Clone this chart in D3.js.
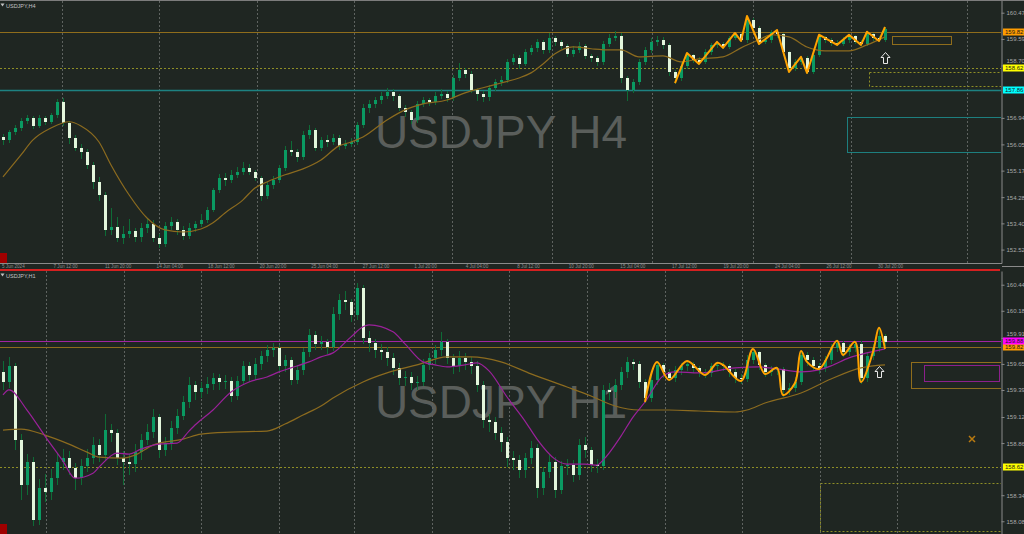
<!DOCTYPE html>
<html lang="en">
<head>
<meta charset="UTF-8">
<title>USDJPY H4 / H1</title>
<script src="https://cdn.jsdelivr.net/npm/d3@7/dist/d3.min.js"></script>
<style>
  body { margin: 0; background: #1f2622; }
  svg { display: block; font-family: "Liberation Sans", Arial, sans-serif; }
</style>
</head>
<body>
<svg width="1024" height="534"></svg>
<script>
// ---------- H4 panel ----------
var h4Open0 = 156.30;
var h4Close = [156.20,156.47,156.60,156.84,156.94,156.67,156.94,156.81,157.04,157.48,
  156.77,156.27,155.93,155.80,155.36,154.79,154.36,153.18,153.28,152.91,
  153.05,153.15,152.95,153.25,153.38,152.91,152.71,153.32,153.45,153.18,
  152.98,153.25,153.38,153.52,153.85,154.52,154.93,154.86,155.03,155.13,
  155.26,155.13,154.93,154.32,154.69,154.86,155.26,155.87,155.80,155.63,
  156.37,156.54,155.93,156.20,156.13,156.27,156.00,156.07,156.13,156.70,
  157.28,157.41,157.54,157.68,157.81,157.68,157.28,157.14,156.87,157.41,
  157.54,157.48,157.68,157.75,157.61,158.28,158.55,158.42,157.88,157.75,
  157.64,157.95,158.15,158.22,158.82,158.95,158.75,159.15,159.29,159.49,
  159.22,159.62,159.49,159.36,159.09,159.22,159.36,159.02,158.95,158.82,
  159.42,159.62,159.69,158.28,157.88,158.15,158.82,159.22,159.49,159.56,
  159.39,158.48,158.28,158.69,159.05,158.89,158.82,159.15,159.39,159.42,
  159.32,159.62,159.76,159.56,160.23,159.96,159.49,159.56,159.83,159.76,
  159.15,158.62,158.82,158.95,158.48,159.05,159.66,159.56,159.46,159.42,
  159.56,159.69,159.49,159.42,159.76,159.62,159.56,159.93];
var h4High = [156.40,156.55,156.70,156.92,157.05,157.00,157.02,157.00,157.10,157.58,
  157.60,156.85,156.35,156.05,155.90,155.45,154.95,154.45,153.90,153.60,
  153.30,153.55,153.25,153.40,153.55,153.50,153.05,153.45,153.60,153.55,
  153.30,153.40,153.48,153.70,153.95,154.60,155.05,155.10,155.20,155.30,
  155.45,155.40,155.20,155.00,154.80,155.00,155.35,156.00,156.15,155.90,
  156.50,156.70,156.60,156.30,156.35,156.40,156.35,156.20,156.25,156.80,
  157.40,157.55,157.65,157.80,157.95,157.90,157.75,157.38,157.20,157.50,
  157.65,157.62,157.80,157.90,157.85,158.38,158.78,158.62,158.50,157.95,
  157.85,158.05,158.25,158.35,158.92,159.08,159.05,159.25,159.40,159.60,
  159.55,159.80,159.70,159.55,159.42,159.35,159.48,159.42,159.10,159.00,
  159.52,159.75,159.85,159.78,158.35,158.25,158.92,159.32,159.62,159.70,
  159.65,159.45,158.55,158.80,159.12,159.10,158.98,159.25,159.45,159.49,
  159.48,159.70,159.79,159.80,160.36,160.30,160.02,159.68,159.88,159.89,
  159.80,159.20,158.92,158.99,159.00,159.15,159.73,159.70,159.62,159.55,
  159.65,159.73,159.72,159.55,159.83,159.80,159.68,159.99];
var h4Low = [156.05,156.12,156.40,156.55,156.78,156.60,156.62,156.72,156.76,156.98,
  156.70,156.10,155.85,155.60,155.25,154.60,154.20,153.00,153.05,152.80,
  152.75,152.95,152.80,152.80,153.10,152.80,152.60,152.65,153.20,153.05,
  152.88,152.90,153.15,153.30,153.45,153.80,154.45,154.70,154.80,154.95,
  155.05,155.05,154.85,154.20,154.25,154.60,154.80,155.20,155.70,155.50,
  155.55,156.25,155.85,155.85,156.00,156.05,155.90,155.92,155.98,156.05,
  156.62,157.15,157.30,157.45,157.60,157.55,157.20,157.00,156.78,156.80,
  157.35,157.38,157.40,157.60,157.52,157.55,158.20,158.30,157.80,157.55,
  157.50,157.55,157.88,158.05,158.15,158.75,158.62,158.70,159.08,159.20,
  159.12,159.15,159.40,159.28,159.00,159.02,159.15,158.95,158.85,158.70,
  158.75,159.35,159.55,158.15,157.55,157.80,158.08,158.75,159.15,159.40,
  159.30,158.38,158.11,158.20,158.62,158.80,158.75,158.78,159.10,159.32,
  159.29,159.30,159.58,159.52,159.50,159.88,159.42,159.45,159.50,159.65,
  159.05,158.48,158.55,158.75,158.45,158.46,159.00,159.48,159.40,159.39,
  159.40,159.50,159.44,159.39,159.40,159.55,159.52,159.52];
var h4MaIdx = [0,3,5,8,11,13,16,18,21,24,27,30,33,35,37,40,42,44,47,50,53,56,58,60,64,67,70,74,77,80,
  83,86,88,90,92,95,98,101,103,106,110,113,116,120,123,126,128,131,134,137,141,144,147];
var h4MaPx = [154.96,155.70,156.20,156.60,156.81,156.67,156.13,155.36,154.36,153.58,
  153.18,153.11,153.21,153.42,153.75,154.19,154.59,154.79,155.03,155.23,
  155.53,156.00,156.13,156.30,156.87,157.21,157.41,157.54,157.78,157.95,
  158.11,158.28,158.45,158.75,159.09,159.32,159.26,159.22,159.22,158.99,
  159.02,158.82,158.92,158.99,159.29,159.56,159.73,159.66,159.32,159.19,
  159.19,159.39,159.66];
var h4ZzIdx = [112,114,116,119,120,122,123,124,126,129,131,133,134,136,139,141,143,144,146,147];
var h4ZzPx = [158.11,159.12,158.75,159.49,159.29,159.79,159.52,160.36,159.42,159.89,
  158.48,158.99,158.45,159.73,159.39,159.73,159.39,159.83,159.52,159.99];
var h4Ticks = [160.47,159.59,158.70,156.94,156.05,155.17,154.28,153.40,152.52];
var h4Levels = [159.82, 158.62, 157.86];
var h4Grid = [9.8,26,42.3,58.5,74.8,91.5,108.2,125,141.3,160.7];
var h4Times = ["5 Jun 2024","7 Jun 12:00","11 Jun 20:00","14 Jun 04:00","18 Jun 12:00","20 Jun 20:00",
  "25 Jun 04:00","27 Jun 12:00","1 Jul 20:00","4 Jul 04:00","8 Jul 12:00","10 Jul 20:00",
  "15 Jul 04:00","17 Jul 12:00","19 Jul 20:00","24 Jul 04:00","26 Jul 12:00","30 Jul 20:00"];
var h4BoxGold = [148.2, 158.0, 159.69, 159.42];
var h4BoxYellow = [144.3, 166.5, 158.48, 158.01];
var h4BoxTeal = [140.7, 166.5, 156.97, 155.80];
var h4Arrow = [147, 159.15];

// ---------- H1 panel ----------
var h1Open0 = 159.57;
var h1Close = [159.47,159.63,158.89,158.44,158.67,158.09,158.41,158.37,158.51,158.67,
  158.71,158.61,158.51,158.63,158.71,158.84,158.74,158.99,158.96,158.71,
  158.67,158.65,158.77,158.89,158.97,159.12,158.79,158.86,159.01,159.13,
  159.27,159.44,159.37,159.41,159.45,159.51,159.47,159.48,159.33,159.48,
  159.63,159.54,159.65,159.73,159.79,159.81,159.63,159.69,159.49,159.59,
  159.77,159.94,159.85,159.87,159.82,160.15,160.29,160.27,160.14,160.41,
  159.91,159.86,159.79,159.77,159.71,159.61,159.51,159.52,159.46,159.47,
  159.64,159.71,159.79,159.87,159.71,159.63,159.71,159.67,159.63,159.44,
  159.09,159.07,158.96,158.87,158.71,158.69,158.59,158.71,158.81,158.41,
  158.57,158.67,158.39,158.63,158.64,158.54,158.84,158.79,158.64,158.63,
  159.39,159.37,159.44,159.57,159.67,159.65,159.47,159.31,159.49,159.64,
  159.57,159.51,159.59,159.63,159.65,159.61,159.57,159.56,159.63,159.64,
  159.63,159.57,159.51,159.50,159.69,159.77,159.64,159.57,159.59,159.60,
  159.39,159.41,159.47,159.74,159.69,159.63,159.61,159.69,159.81,159.86,
  159.77,159.81,159.85,159.51,159.73,159.81,159.93,159.87];
var h1High = [159.68,159.72,159.66,158.95,158.75,158.72,158.50,158.55,158.60,158.76,
  158.80,158.78,158.66,158.70,158.80,158.92,158.90,159.15,159.05,159.00,
  158.78,158.75,158.85,158.95,159.05,159.20,159.15,158.92,159.08,159.20,
  159.33,159.52,159.48,159.47,159.52,159.56,159.55,159.54,159.52,159.53,
  159.68,159.67,159.71,159.78,159.84,159.86,159.84,159.74,159.72,159.64,
  159.81,160.00,159.98,159.93,159.90,160.22,160.35,160.38,160.30,160.46,
  160.44,159.98,159.90,159.85,159.82,159.76,159.66,159.58,159.57,159.53,
  159.70,159.76,159.84,159.97,159.90,159.75,159.78,159.76,159.72,159.68,
  159.48,159.15,159.12,159.02,158.92,158.78,158.74,158.76,158.88,158.85,
  158.62,158.74,158.72,158.68,158.70,158.69,158.90,158.92,158.82,158.70,
  159.44,159.46,159.50,159.62,159.72,159.70,159.68,159.50,159.54,159.67,
  159.66,159.60,159.63,159.66,159.68,159.67,159.63,159.60,159.66,159.66,
  159.67,159.65,159.60,159.55,159.74,159.80,159.78,159.66,159.63,159.62,
  159.62,159.46,159.52,159.78,159.77,159.72,159.66,159.73,159.85,159.89,
  159.88,159.85,159.88,159.88,159.77,159.85,160.01,159.95];
var h1Low = [159.40,159.42,158.80,158.30,158.35,158.04,158.05,158.28,158.30,158.45,
  158.60,158.55,158.40,158.45,158.58,158.66,158.68,158.70,158.88,158.65,
  158.45,158.55,158.58,158.70,158.85,158.92,158.72,158.74,158.80,158.96,
  159.10,159.22,159.30,159.32,159.36,159.40,159.40,159.41,159.28,159.30,
  159.45,159.48,159.50,159.60,159.68,159.73,159.58,159.58,159.45,159.46,
  159.55,159.73,159.80,159.80,159.76,159.79,160.10,160.20,160.08,160.10,
  159.86,159.78,159.72,159.70,159.64,159.55,159.45,159.44,159.40,159.40,
  159.44,159.60,159.66,159.74,159.66,159.56,159.58,159.60,159.56,159.38,
  159.02,158.98,158.90,158.78,158.63,158.60,158.52,158.52,158.66,158.32,
  158.35,158.52,158.32,158.36,158.55,158.48,158.50,158.72,158.58,158.57,
  158.60,159.30,159.32,159.40,159.52,159.60,159.42,159.27,159.28,159.45,
  159.52,159.49,159.48,159.55,159.59,159.57,159.53,159.52,159.53,159.59,
  159.59,159.53,159.47,159.46,159.48,159.66,159.60,159.53,159.54,159.55,
  159.33,159.35,159.38,159.45,159.64,159.60,159.56,159.58,159.66,159.78,
  159.73,159.74,159.78,159.46,159.48,159.70,159.78,159.84];
var h1FastIdx = [0,1,4,7,10,12,15,16,19,21,23,26,29,31,32,35,38,41,44,46,48,51,53,55,58,60,61,65,67,70,
  72,74,77,79,81,84,87,89,92,94,97,99,100,103,105,107,110,112,116,122,126,129,133,136,138,141,144,147];
var h1FastPx = [159.34,159.39,159.19,158.93,158.68,158.51,158.56,158.62,158.76,158.75,
  158.80,158.85,158.86,158.98,159.04,159.19,159.37,159.47,159.52,159.57,
  159.61,159.67,159.72,159.76,159.92,160.02,160.04,159.97,159.85,159.67,
  159.64,159.62,159.64,159.66,159.58,159.32,159.08,158.90,158.70,158.65,
  158.65,158.64,158.69,158.93,159.12,159.27,159.53,159.57,159.56,159.61,
  159.62,159.60,159.57,159.59,159.63,159.71,159.76,159.80];
var h1SlowIdx = [0,3,7,11,14,16,20,22,25,30,33,38,44,47,50,53,55,60,64,69,74,78,83,88,94,98,102,106,111,116,
  122,124,127,133,138,143,147];
var h1SlowPx = [158.99,159.00,158.94,158.85,158.77,158.72,158.71,158.74,158.84,158.90,
  158.95,158.97,158.98,159.05,159.14,159.23,159.31,159.47,159.56,159.64,
  159.72,159.72,159.67,159.55,159.42,159.33,159.23,159.19,159.19,159.18,
  159.17,159.19,159.26,159.36,159.50,159.61,159.64];
var h1LineIdx = [107,109,111,114,117,119,120,123,125,127,129,130,132,133,134,136,139,140,142,143,145,146,147];
var h1LinePx = [159.27,159.67,159.49,159.68,159.54,159.66,159.64,159.48,159.80,159.55,159.61,159.34,
  159.46,159.78,159.67,159.60,159.88,159.74,159.87,159.47,159.77,160.01,159.80];
var h1Ticks = [160.44,160.18,159.91,159.65,159.39,159.12,158.86,158.34,158.08];
var h1Levels = [159.88, 159.82, 158.62];
var h1Grid = [7.1,20.1,33.05,46,58.5,71.45,84.4,97.3,110.3,123.2,136.1,149.05];
var h1BoxGold = [151.3, 166.5, 159.67, 159.41];
var h1BoxMagenta = [153.5, 166.0, 159.64, 159.48];
var h1BoxYellow = [136.2, 166.5, 158.46, 157.98];
var h1Arrow = [146, 159.63];
var h1Cross = [161.5, 158.90];

var svg = d3.select("svg");
svg.append("rect").attr("width", 1024).attr("height", 534).attr("fill", "#1f2622");

function makeBars(open0, close, high, low) {
  return close.map(function(c, i) {
    return { i: i, o: i ? close[i - 1] : open0, h: high[i], l: low[i], c: c };
  });
}

function drawPanel(p) {
  var x = d3.scaleLinear().domain([0, 147]).range([3, 885]);
  var y = d3.scaleLinear().domain(p.domain).range([p.bottom, p.top]);
  var px = function(i) { return Math.round(x(i)); };
  var py = function(v) { return Math.round(y(v)); };

  svg.append("clipPath").attr("id", "clip" + p.name)
    .append("rect").attr("x", 0).attr("y", p.clipTop).attr("width", 1001).attr("height", p.bottom - p.clipTop);
  var g = svg.append("g").attr("clip-path", "url(#clip" + p.name + ")");

  g.append("text").attr("x", 501).attr("y", p.wmY).attr("text-anchor", "middle")
    .attr("font-size", 46).attr("fill", "#5a5e5b").text(p.watermark);

  g.selectAll("line.grid").data(p.grid).join("line").attr("class", "grid")
    .attr("x1", function(d) { return px(d) + 0.5; }).attr("x2", function(d) { return px(d) + 0.5; })
    .attr("y1", p.clipTop).attr("y2", p.bottom)
    .attr("stroke", "#5e6360").attr("stroke-dasharray", "2,2");

  p.levels.forEach(function(lv, k) {
    var yy = py(lv) + 0.5;
    g.append("line").attr("x1", 0).attr("x2", 1001).attr("y1", yy).attr("y2", yy)
      .attr("stroke", p.levelColors[k]).attr("stroke-width", p.levelWidths[k])
      .attr("stroke-dasharray", p.levelDash[k]);
  });

  p.boxes.forEach(function(b, k) {
    g.append("rect").attr("x", px(b[0]) + 0.5).attr("y", py(b[2]) + 0.5)
      .attr("width", px(b[1]) - px(b[0])).attr("height", py(b[3]) - py(b[2]))
      .attr("fill", "none").attr("stroke", p.boxColors[k]).attr("stroke-dasharray", p.boxDash[k]);
  });

  var bars = makeBars(p.open0, p.close, p.high, p.low);
  g.selectAll("line.wick").data(bars).join("line").attr("class", "wick")
    .attr("x1", function(d) { return px(d.i) + 0.5; }).attr("x2", function(d) { return px(d.i) + 0.5; })
    .attr("y1", function(d) { return py(d.h); }).attr("y2", function(d) { return py(d.l) + 1; })
    .attr("stroke", "#0e6b36");
  g.selectAll("rect.body").data(bars).join("rect").attr("class", "body")
    .attr("x", function(d) { return px(d.i) - 1; }).attr("width", 3)
    .attr("y", function(d) { return py(Math.max(d.o, d.c)); })
    .attr("height", function(d) { return Math.max(1, py(Math.min(d.o, d.c)) - py(Math.max(d.o, d.c))); })
    .attr("fill", function(d) { return d.c >= d.o ? "#0a9a62" : "#e3f6dc"; });

  var line = d3.line().x(function(d) { return x(d[0]); }).y(function(d) { return y(d[1]); });
  p.mas.forEach(function(m) {
    g.append("path").datum(d3.zip(m.idx, m.px))
      .attr("d", line.curve(d3.curveMonotoneX))
      .attr("fill", "none").attr("stroke", m.color).attr("stroke-width", 1.2);
  });

  g.append("path").datum(d3.zip(p.zz.idx, p.zz.px))
    .attr("d", line.curve(p.zz.curve))
    .attr("fill", "none").attr("stroke", "#ffa200").attr("stroke-width", 2)
    .attr("stroke-linejoin", "round");

  g.append("path").attr("d", "M0,0L4.5,5L2,5L2,11L-2,11L-2,5L-4.5,5Z")
    .attr("transform", "translate(" + (px(p.arrow[0]) + 0.5) + "," + (py(p.arrow[1]) + 0.5) + ")")
    .attr("fill", "#1f2622").attr("stroke", "#e8e8e8");

  if (p.cross) {
    var cx = x(p.cross[0]), cy = y(p.cross[1]);
    g.append("path").attr("d", "M" + (cx - 3) + "," + (cy - 3) + "L" + (cx + 3) + "," + (cy + 3) +
      "M" + (cx + 3) + "," + (cy - 3) + "L" + (cx - 3) + "," + (cy + 3))
      .attr("stroke", "#b97a10").attr("stroke-width", 1.5);
  }

  // price axis; labels that sit just above a price tag are nudged up clear of it
  var tagYs = p.tags.map(function(t) { return py(t.v); });
  var ax = svg.append("g").attr("transform", "translate(1001.5,0)")
    .call(d3.axisRight(y).tickValues(p.ticks).tickFormat(d3.format(".2f"))
      .tickSize(3).tickSizeOuter(0).tickPadding(2));
  ax.select(".domain").attr("stroke", "#8a8a8a");
  ax.selectAll(".tick line").attr("stroke", "#8a8a8a");
  ax.selectAll(".tick text").attr("fill", "#a9a9a9").attr("font-size", 6)
    .attr("font-family", "Liberation Sans, Arial, sans-serif")
    .attr("y", function(d) {
      var ty = y(d), shift = 0;
      tagYs.forEach(function(t) {
        if (ty < t && t - ty < 7.5) shift = Math.min(shift, (t - 4) - (ty + 3.2));
      });
      return shift;
    });

  // price tags
  p.tags.forEach(function(t) {
    var ty = py(t.v);
    svg.append("rect").attr("x", 1003).attr("y", ty - 3.5).attr("width", 21).attr("height", 7)
      .attr("fill", t.color);
    svg.append("text").attr("x", 1005).attr("y", ty + 2.2).attr("font-size", 6)
      .attr("fill", "#1a1a1a").text(t.v.toFixed(2));
  });

  svg.append("text").attr("x", 6).attr("y", p.clipTop + 6.5).attr("font-size", 5.5)
    .attr("fill", "#c2c2c2").text(p.title);
  svg.append("path").attr("d", "M0.5," + (p.clipTop + 2.5) + "h4l-2,3z").attr("fill", "#c2c2c2");
  svg.append("rect").attr("x", 0).attr("y", p.bottom - 10).attr("width", 7).attr("height", 10)
    .attr("fill", "#a00000");
}

drawPanel({
  name: "h4", domain: [152.07, 160.896], top: 0, bottom: 263, clipTop: 1,
  watermark: "USDJPY H4", wmY: 148, title: "USDJPY,H4",
  open0: h4Open0, close: h4Close, high: h4High, low: h4Low,
  grid: h4Grid, ticks: h4Ticks,
  levels: h4Levels, levelColors: ["#8f6d1c", "#8e8e26", "#1d8282"], levelWidths: [1, 1, 1.6],
  levelDash: [null, "2,2", null],
  boxes: [h4BoxGold, h4BoxYellow, h4BoxTeal], boxColors: ["#8f6d1c", "#8e8e26", "#1d7f7f"],
  boxDash: [null, "2,2", null],
  mas: [{ idx: h4MaIdx, px: h4MaPx, color: "#8c6b1f" }],
  zz: { idx: h4ZzIdx, px: h4ZzPx, curve: d3.curveLinear },
  arrow: h4Arrow,
  tags: [{ v: h4Levels[0], color: "#ff9c00" }, { v: h4Levels[1], color: "#ffff00" },
         { v: h4Levels[2], color: "#00ffff" }]
});

drawPanel({
  name: "h1", domain: [157.953, 160.577], top: 271, bottom: 534, clipTop: 271,
  watermark: "USDJPY H1", wmY: 418, title: "USDJPY,H1",
  open0: h1Open0, close: h1Close, high: h1High, low: h1Low,
  grid: h1Grid, ticks: h1Ticks,
  levels: h1Levels, levelColors: ["#a223a2", "#8f6d1c", "#8e8e26"], levelWidths: [1.2, 1, 1],
  levelDash: [null, null, "2,2"],
  boxes: [h1BoxGold, h1BoxMagenta, h1BoxYellow], boxColors: ["#8f6d1c", "#8c1f8c", "#8e8e26"],
  boxDash: [null, null, "2,2"],
  mas: [{ idx: h1SlowIdx, px: h1SlowPx, color: "#8c6b1f" }, { idx: h1FastIdx, px: h1FastPx, color: "#9a219a" }],
  zz: { idx: h1LineIdx, px: h1LinePx, curve: d3.curveCatmullRom.alpha(0.5) },
  arrow: h1Arrow, cross: h1Cross,
  tags: [{ v: h1Levels[1], color: "#ff9c00" }, { v: h1Levels[0], color: "#ff00ff" },
         { v: h1Levels[2], color: "#ffff00" }]
});

// frame lines, time strip and separator
svg.append("line").attr("x1", 0).attr("x2", 1024).attr("y1", 0.5).attr("y2", 0.5).attr("stroke", "#7c7c7c");
svg.append("line").attr("x1", 0).attr("x2", 1002).attr("y1", 263.5).attr("y2", 263.5).attr("stroke", "#8a8a8a");
svg.append("line").attr("x1", 1002).attr("x2", 1024).attr("y1", 266.5).attr("y2", 266.5).attr("stroke", "#8a8a8a");
var tx = d3.scaleLinear().domain([0, h4Times.length - 1]).range([2, 878]);
svg.append("g").selectAll("text").data(h4Times).join("text")
  .attr("x", function(d, i) { return tx(i); }).attr("y", 268.3)
  .attr("font-size", 4.6).attr("fill", "#8d8d8d").text(function(d) { return d; });
svg.append("line").attr("x1", 0).attr("x2", 1000).attr("y1", 270).attr("y2", 270)
  .attr("stroke", "#d42020").attr("stroke-width", 2);
</script>
</body>
</html>
